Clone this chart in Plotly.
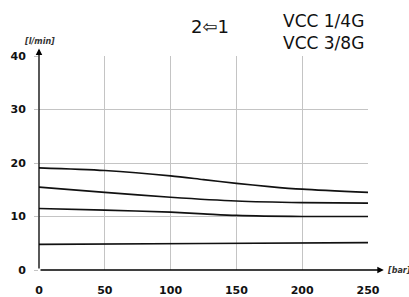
import plotly.graph_objects as go

pressure_top = [0, 50, 100, 125, 150, 175, 200, 250]
flow_top = [19.1, 18.6, 17.6, 16.9, 16.2, 15.6, 15.1, 14.5]

pressure_2 = [0, 50, 100, 150, 200, 250]
flow_2 = [15.5, 14.5, 13.6, 12.9, 12.6, 12.5]

pressure_3 = [0, 50, 100, 125, 150, 200, 250]
flow_3 = [11.5, 11.2, 10.8, 10.5, 10.2, 10.0, 10.0]

pressure_4 = [0, 125, 250]
flow_4 = [4.8, 4.95, 5.1]

x_ticks = [0, 50, 100, 150, 200, 250]
y_ticks = [0, 10, 20, 30, 40]

fig = go.Figure()
for xs, ys in [(pressure_top, flow_top), (pressure_2, flow_2),
               (pressure_3, flow_3), (pressure_4, flow_4)]:
    fig.add_trace(go.Scatter(x=xs, y=ys, mode="lines",
                             line=dict(color="#111111", width=1.7, shape="spline", smoothing=0.8),
                             showlegend=False, hoverinfo="skip"))

tickfont = dict(family="DejaVu Sans", size=11, color="#111111", weight="bold")

fig.update_layout(
    width=409, height=297,
    margin=dict(l=39, r=41, t=56, b=27),
    paper_bgcolor="white", plot_bgcolor="white",
    xaxis=dict(range=[0, 250], tickvals=x_ticks, showgrid=True, gridcolor="#c4c4c4",
               gridwidth=1.2, zeroline=False, showline=False, ticks="",
               tickfont=tickfont, ticklabelstandoff=12, automargin=False),
    yaxis=dict(range=[0, 40], tickvals=y_ticks, showgrid=True, gridcolor="#c4c4c4",
               gridwidth=1.2, zeroline=False, showline=False, ticks="outside",
               ticklen=4, tickcolor="#c4c4c4", tickwidth=1.2,
               tickfont=tickfont, ticklabelstandoff=6, automargin=False),
)

# axis arrows
fig.add_annotation(x=0, y=41.4, ax=0, ay=0, xref="x", yref="y", axref="x", ayref="y",
                   text="", showarrow=True, arrowhead=2, arrowsize=1, arrowwidth=1.3,
                   arrowcolor="black", standoff=0)
fig.add_annotation(x=262, y=0, ax=0, ay=0, xref="x", yref="y", axref="x", ayref="y",
                   text="", showarrow=True, arrowhead=2, arrowsize=1, arrowwidth=1.3,
                   arrowcolor="black", standoff=0)

unitfont = dict(family="DejaVu Sans", size=8, color="#333333", style="italic", weight="bold")
fig.add_annotation(text="[l/min]", xref="paper", yref="paper", x=-0.052, y=1.066,
                   xanchor="left", yanchor="middle", showarrow=False, font=unitfont)
fig.add_annotation(text="[bar]", xref="paper", yref="paper", x=1.053, y=0.0,
                   xanchor="left", yanchor="middle", showarrow=False, font=unitfont)

titlefont = dict(family="DejaVu Sans", size=17, color="#111111")
fig.add_annotation(text="2\u21e61", xref="paper", yref="paper", x=0.52, y=1.14,
                   xanchor="center", yanchor="middle", showarrow=False,
                   font=dict(family="DejaVu Sans", size=18, color="#111111"))
fig.add_annotation(text="VCC 1/4G", xref="paper", yref="paper", x=0.995, y=1.165,
                   xanchor="right", yanchor="middle", showarrow=False, font=titlefont)
fig.add_annotation(text="VCC 3/8G", xref="paper", yref="paper", x=0.995, y=1.063,
                   xanchor="right", yanchor="middle", showarrow=False, font=titlefont)

fig.write_html("out.html", post_script="document.body.style.margin='0';",
               config={"displayModeBar": False})
